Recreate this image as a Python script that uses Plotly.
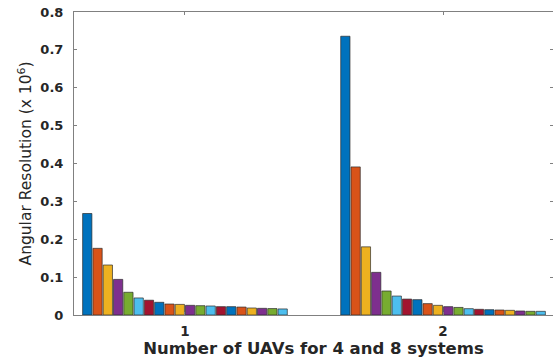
import plotly.graph_objects as go

categories = [1, 2]
tick_labels = ["1", "2"]

# value of each of the 20 bar series, for group 1 (4 systems) and group 2 (8 systems)
group1_values = [0.268, 0.176, 0.132, 0.094, 0.060, 0.045, 0.039, 0.0335, 0.029, 0.028,
                 0.0255, 0.0246, 0.0238, 0.022, 0.022, 0.021, 0.0185, 0.0176, 0.017, 0.016]
group2_values = [0.736, 0.391, 0.180, 0.1126, 0.0634, 0.050, 0.042, 0.0405, 0.030, 0.0255,
                 0.022, 0.020, 0.0167, 0.015, 0.014, 0.0132, 0.0123, 0.0106, 0.0097, 0.0097]

matlab_colors = ["#0072BD", "#D95319", "#EDB120", "#7E2F8E", "#77AC30", "#4DBEEE", "#A2142F"]

fig = go.Figure()
for i in range(len(group1_values)):
    fig.add_trace(go.Bar(
        x=categories,
        y=[group1_values[i], group2_values[i]],
        marker=dict(color=matlab_colors[i % len(matlab_colors)],
                    line=dict(color="rgba(40,40,40,0.85)", width=0.8)),
        showlegend=False,
        name=f"Series {i+1}",
    ))

axis_color = "#808080"
fig.update_layout(
    width=553, height=362,
    margin=dict(l=74, r=0, t=12, b=47, autoexpand=False),
    paper_bgcolor="white", plot_bgcolor="white",
    barmode="group", bargap=0.203, bargroupgap=0.1,
    font=dict(family="DejaVu Sans", color="#262626"),
)
fig.update_xaxes(
    range=[0.57, 2.426], tickvals=categories, ticktext=tick_labels,
    ticks="inside", ticklen=3, tickcolor=axis_color,
    showline=True, linecolor=axis_color, linewidth=1, mirror="ticks",
    showgrid=False, zeroline=False,
    tickfont=dict(family="DejaVu Sans", size=13.5, color="#262626", weight="bold"),
    ticklabelstandoff=4,
    title=dict(text="<b>Number of UAVs for 4 and 8 systems</b>",
               font=dict(family="DejaVu Sans", size=16.5, color="#262626"), standoff=3),
)
fig.update_yaxes(
    range=[0, 0.8], tickvals=[0, 0.1, 0.2, 0.3, 0.4, 0.5, 0.6, 0.7, 0.8],
    ticktext=["0", "0.1", "0.2", "0.3", "0.4", "0.5", "0.6", "0.7", "0.8"],
    ticks="inside", ticklen=3, tickcolor=axis_color,
    showline=True, linecolor=axis_color, linewidth=1, mirror="ticks",
    showgrid=False, zeroline=False,
    tickfont=dict(family="DejaVu Sans", size=13, color="#262626", weight="bold"),
    ticklabelstandoff=7,
    title=dict(text="Angular Resolution (x 10<sup>6</sup>)",
               font=dict(family="DejaVu Sans", size=15.5, color="#262626"), standoff=4),
)

fig.write_html("out.html", post_script="document.body.style.margin='0';",
               config={"displayModeBar": False})
